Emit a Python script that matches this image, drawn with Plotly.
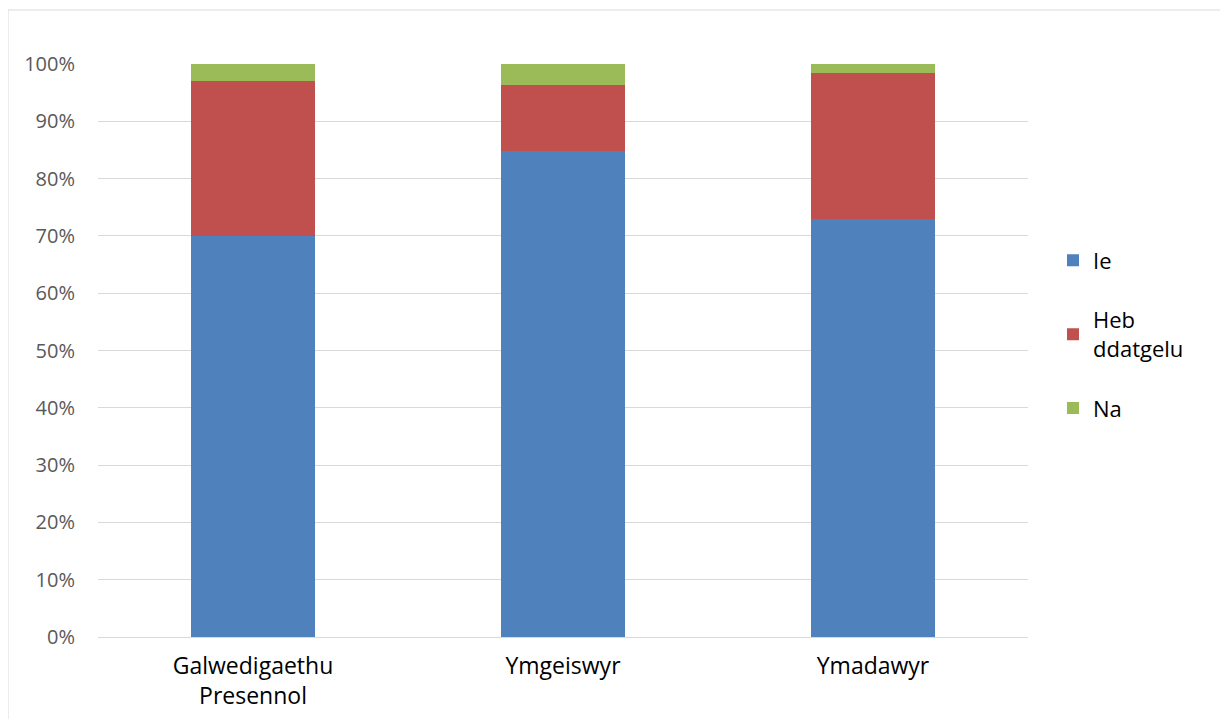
import plotly.graph_objects as go

categories = ["Galwedigaethu<br>Presennol", "Ymgeiswyr", "Ymadawyr"]
ie = [0.700, 0.848, 0.729]
heb = [0.270, 0.115, 0.255]
na = [0.030, 0.037, 0.016]
series_names = ["Ie", "Heb<br>ddatgelu", "Na"]
colors = ["#4F81BD", "#C0504D", "#9BBB59"]
yticks = [i / 10 for i in range(11)]
yticklabels = [f"{i*10}%" for i in range(11)]

W, H = 1228, 719
L, R, T, B = 90, 208, 56, 90  # page body adds an 8px offset
PW = W - L - R
PH = H - T - B

fig = go.Figure()
for name, vals, col in zip(series_names, [ie, heb, na], colors):
    fig.add_trace(go.Bar(
        x=categories, y=vals, name=name, marker=dict(color=col, line=dict(width=0)),
        width=0.4, legendgroup=name,
    ))

fig.update_layout(
    barmode="stack",
    width=W, height=H,
    margin=dict(l=L, r=R, t=T, b=B),
    plot_bgcolor="white", paper_bgcolor="white",
    font=dict(family="Open Sans, Noto Sans, sans-serif", size=17, color="#000000"),
    legend=dict(
        x=0.027, y=0.528, xanchor="left", yanchor="middle",
        traceorder="grouped", tracegroupgap=28,
        font=dict(size=22, color="#000000"),
        itemwidth=30,
    ),
    xaxis=dict(
        showline=True, linecolor="#D9D9D9", linewidth=1,
        tickfont=dict(size=23, color="#000000"),
        ticks="outside", ticklen=8, tickcolor="rgba(0,0,0,0)",
    ),
    yaxis=dict(
        range=[0, 1.0], tickvals=yticks, ticktext=yticklabels,
        showgrid=True, gridcolor="#D9D9D9", gridwidth=1,
        tickfont=dict(size=20, color="#595959"), zeroline=False,
        ticks="outside", ticklen=18, tickcolor="rgba(0,0,0,0)",
    ),
    bargap=0.6,
)
fig.update_layout(legend_x=1 + (1053 - 1028) / PW)
fig.add_shape(type="rect", xref="paper", yref="paper",
              x0=(0 - L) / PW, x1=1.3, y0=-0.3, y1=1 + (T - 2) / PH,
              line=dict(color="#D9D9D9", width=1), layer="below")

fig.write_html("out.html")
